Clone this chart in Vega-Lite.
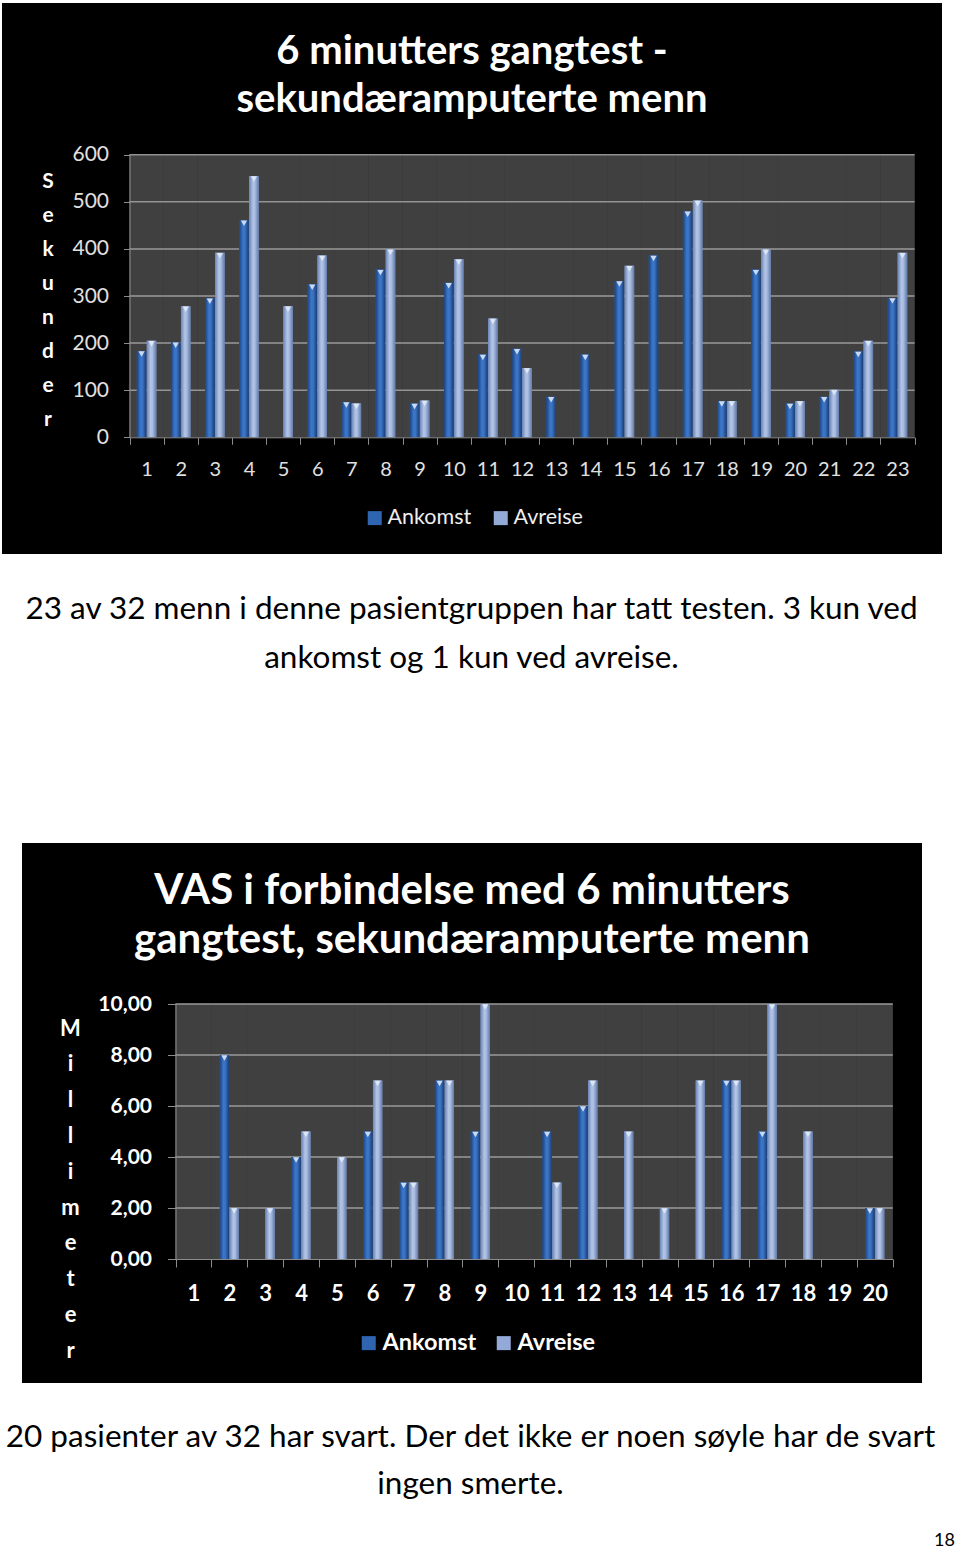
{
  "$schema": "https://vega.github.io/schema/vega-lite/v6.json",
  "background": "#ffffff",
  "padding": {"left": 2, "top": 3, "right": 5, "bottom": 2},
  "config": {
    "font": "Lato",
    "view": {"stroke": null, "fill": "#000000"}
  },
  "datasets": {
    "gangtest": [
      {"pasient": 1, "serie": "Ankomst", "verdi": 183}, {"pasient": 1, "serie": "Avreise", "verdi": 205},
      {"pasient": 2, "serie": "Ankomst", "verdi": 202}, {"pasient": 2, "serie": "Avreise", "verdi": 278},
      {"pasient": 3, "serie": "Ankomst", "verdi": 295}, {"pasient": 3, "serie": "Avreise", "verdi": 392},
      {"pasient": 4, "serie": "Ankomst", "verdi": 461}, {"pasient": 4, "serie": "Avreise", "verdi": 555},
      {"pasient": 5, "serie": "Ankomst", "verdi": null}, {"pasient": 5, "serie": "Avreise", "verdi": 278},
      {"pasient": 6, "serie": "Ankomst", "verdi": 325}, {"pasient": 6, "serie": "Avreise", "verdi": 386},
      {"pasient": 7, "serie": "Ankomst", "verdi": 75}, {"pasient": 7, "serie": "Avreise", "verdi": 72},
      {"pasient": 8, "serie": "Ankomst", "verdi": 356}, {"pasient": 8, "serie": "Avreise", "verdi": 399},
      {"pasient": 9, "serie": "Ankomst", "verdi": 72}, {"pasient": 9, "serie": "Avreise", "verdi": 78},
      {"pasient": 10, "serie": "Ankomst", "verdi": 328}, {"pasient": 10, "serie": "Avreise", "verdi": 378},
      {"pasient": 11, "serie": "Ankomst", "verdi": 176}, {"pasient": 11, "serie": "Avreise", "verdi": 252},
      {"pasient": 12, "serie": "Ankomst", "verdi": 188}, {"pasient": 12, "serie": "Avreise", "verdi": 147},
      {"pasient": 13, "serie": "Ankomst", "verdi": 86}, {"pasient": 13, "serie": "Avreise", "verdi": null},
      {"pasient": 14, "serie": "Ankomst", "verdi": 176}, {"pasient": 14, "serie": "Avreise", "verdi": null},
      {"pasient": 15, "serie": "Ankomst", "verdi": 332}, {"pasient": 15, "serie": "Avreise", "verdi": 364},
      {"pasient": 16, "serie": "Ankomst", "verdi": 386}, {"pasient": 16, "serie": "Avreise", "verdi": null},
      {"pasient": 17, "serie": "Ankomst", "verdi": 480}, {"pasient": 17, "serie": "Avreise", "verdi": 503},
      {"pasient": 18, "serie": "Ankomst", "verdi": 77}, {"pasient": 18, "serie": "Avreise", "verdi": 77},
      {"pasient": 19, "serie": "Ankomst", "verdi": 356}, {"pasient": 19, "serie": "Avreise", "verdi": 399},
      {"pasient": 20, "serie": "Ankomst", "verdi": 72}, {"pasient": 20, "serie": "Avreise", "verdi": 77},
      {"pasient": 21, "serie": "Ankomst", "verdi": 86}, {"pasient": 21, "serie": "Avreise", "verdi": 101},
      {"pasient": 22, "serie": "Ankomst", "verdi": 182}, {"pasient": 22, "serie": "Avreise", "verdi": 205},
      {"pasient": 23, "serie": "Ankomst", "verdi": 296}, {"pasient": 23, "serie": "Avreise", "verdi": 392}
    ],
    "vas": [
      {"pasient": 1, "serie": "Ankomst", "verdi": null}, {"pasient": 1, "serie": "Avreise", "verdi": null},
      {"pasient": 2, "serie": "Ankomst", "verdi": 8}, {"pasient": 2, "serie": "Avreise", "verdi": 2},
      {"pasient": 3, "serie": "Ankomst", "verdi": null}, {"pasient": 3, "serie": "Avreise", "verdi": 2},
      {"pasient": 4, "serie": "Ankomst", "verdi": 4}, {"pasient": 4, "serie": "Avreise", "verdi": 5},
      {"pasient": 5, "serie": "Ankomst", "verdi": null}, {"pasient": 5, "serie": "Avreise", "verdi": 4},
      {"pasient": 6, "serie": "Ankomst", "verdi": 5}, {"pasient": 6, "serie": "Avreise", "verdi": 7},
      {"pasient": 7, "serie": "Ankomst", "verdi": 3}, {"pasient": 7, "serie": "Avreise", "verdi": 3},
      {"pasient": 8, "serie": "Ankomst", "verdi": 7}, {"pasient": 8, "serie": "Avreise", "verdi": 7},
      {"pasient": 9, "serie": "Ankomst", "verdi": 5}, {"pasient": 9, "serie": "Avreise", "verdi": 10},
      {"pasient": 10, "serie": "Ankomst", "verdi": null}, {"pasient": 10, "serie": "Avreise", "verdi": null},
      {"pasient": 11, "serie": "Ankomst", "verdi": 5}, {"pasient": 11, "serie": "Avreise", "verdi": 3},
      {"pasient": 12, "serie": "Ankomst", "verdi": 6}, {"pasient": 12, "serie": "Avreise", "verdi": 7},
      {"pasient": 13, "serie": "Ankomst", "verdi": null}, {"pasient": 13, "serie": "Avreise", "verdi": 5},
      {"pasient": 14, "serie": "Ankomst", "verdi": null}, {"pasient": 14, "serie": "Avreise", "verdi": 2},
      {"pasient": 15, "serie": "Ankomst", "verdi": null}, {"pasient": 15, "serie": "Avreise", "verdi": 7},
      {"pasient": 16, "serie": "Ankomst", "verdi": 7}, {"pasient": 16, "serie": "Avreise", "verdi": 7},
      {"pasient": 17, "serie": "Ankomst", "verdi": 5}, {"pasient": 17, "serie": "Avreise", "verdi": 10},
      {"pasient": 18, "serie": "Ankomst", "verdi": null}, {"pasient": 18, "serie": "Avreise", "verdi": 5},
      {"pasient": 19, "serie": "Ankomst", "verdi": null}, {"pasient": 19, "serie": "Avreise", "verdi": null},
      {"pasient": 20, "serie": "Ankomst", "verdi": 2}, {"pasient": 20, "serie": "Avreise", "verdi": 2}
    ]
  },
  "title": {"text": "18", "orient": "bottom", "anchor": "end", "frame": "bounds", "fontSize": 18, "fontWeight": "normal", "font": "Lato", "color": "#000000", "offset": 32, "dx": 13},
  "vconcat": [
    {
      "width": 940,
      "height": 551,
      "data": {"name": "gangtest"},
      "title": {"text": ["6 minutters gangtest -", "sekundæramputerte menn"], "orient": "top", "anchor": "middle", "frame": "group", "offset": -149, "baseline": "alphabetic", "font": "Lato", "fontSize": 40, "fontWeight": "bold", "color": "#ffffff", "lineHeight": 48},
      "encoding": {
        "x": {
          "field": "pasient", "type": "ordinal",
          "scale": {"type": "band", "range": [127.5, 912.5], "paddingInner": 0, "paddingOuter": 0},
          "axis": {"orient": "bottom", "offset": -116.7, "zindex": 1, "grid": false, "domainColor": "#8c8c8c", "tickColor": "#8c8c8c", "tickSize": 7, "tickBand": "extent", "labelAngle": 0, "labelFont": "Lato", "labelFontSize": 20, "labelColor": "#e0e0e0", "labelPadding": 15,
            "title": ["23 av 32 menn i denne pasientgruppen har tatt testen. 3 kun ved", "ankomst og 1  kun ved avreise."],
            "titleX": 469, "titleY": 181, "titleAlign": "center", "titleBaseline": "alphabetic", "titleFont": "Lato", "titleFontSize": 31.5, "titleFontWeight": "normal", "titleColor": "#000000", "titleLineHeight": 49}
        }
      },
      "layer": [
        {"mark": {"type": "bar", "color": "#404040"}, "encoding": {"y": {"datum": 600, "type": "quantitative"}}},
        {"mark": {"type": "tick", "color": "#9a9a9a", "thickness": 1, "size": 34.2, "opacity": 1}, "encoding": {"y": {"datum": 100, "type": "quantitative"}}},
        {"mark": {"type": "tick", "color": "#9a9a9a", "thickness": 1, "size": 34.2, "opacity": 1}, "encoding": {"y": {"datum": 200, "type": "quantitative"}}},
        {"mark": {"type": "tick", "color": "#9a9a9a", "thickness": 1, "size": 34.2, "opacity": 1}, "encoding": {"y": {"datum": 300, "type": "quantitative"}}},
        {"mark": {"type": "tick", "color": "#9a9a9a", "thickness": 1, "size": 34.2, "opacity": 1}, "encoding": {"y": {"datum": 400, "type": "quantitative"}}},
        {"mark": {"type": "tick", "color": "#9a9a9a", "thickness": 1, "size": 34.2, "opacity": 1}, "encoding": {"y": {"datum": 500, "type": "quantitative"}}},
        {"mark": {"type": "tick", "color": "#9a9a9a", "thickness": 1, "size": 34.2, "opacity": 1}, "encoding": {"y": {"datum": 600, "type": "quantitative"}}},
        {
          "mark": {"type": "bar"},
          "encoding": {
            "y": {
              "field": "verdi", "type": "quantitative", "stack": null,
              "scale": {"domain": [0, 600], "range": [434.3, 151.7], "nice": false, "zero": true},
              "axis": {"orient": "left", "offset": -127.5, "zindex": 1, "grid": false, "values": [0, 100, 200, 300, 400, 500, 600], "labelFlush": false, "domainColor": "#8c8c8c", "tickColor": "#8c8c8c", "tickSize": 6, "labelFont": "Lato", "labelFontSize": 21, "labelColor": "#e0e0e0", "labelPadding": 15,
                "title": ["S", "e", "k", "u", "n", "d", "e", "r"], "titleAngle": 0, "titleX": -82, "titleY": 184, "titleAlign": "center", "titleBaseline": "alphabetic", "titleFont": "Lato", "titleFontWeight": "bold", "titleFontSize": 21, "titleColor": "#ffffff", "titleLineHeight": 34}
            },
            "xOffset": {"field": "serie", "type": "nominal", "scale": {"paddingInner": 0.05, "paddingOuter": 0.73}},
            "color": {
              "field": "serie", "type": "nominal",
              "scale": {"domain": ["Ankomst", "Avreise"], "range": ["#2f64b0", "#93aad8"]},
              "legend": {"orient": "none", "legendX": 362, "legendY": 504, "direction": "horizontal", "title": null, "symbolType": "square", "symbolSize": 196, "symbolStrokeWidth": 0, "labelFont": "Lato", "labelFontSize": 21.5, "labelColor": "#eeeeee", "labelOffset": 2, "columnPadding": 18}
            }
          }
        },
        {
          "transform": [{"filter": "datum.serie === 'Ankomst'"}],
          "mark": {"type": "bar", "fill": {"gradient": "linear", "x1": 0, "x2": 1, "y1": 0, "y2": 0, "stops": [{"offset": 0, "color": "#1c437f"}, {"offset": 0.4, "color": "#3b76c9"}, {"offset": 0.6, "color": "#3a73c4"}, {"offset": 1, "color": "#1a3d74"}]}},
          "encoding": {"y": {"field": "verdi", "type": "quantitative", "stack": null}, "xOffset": {"field": "serie", "type": "nominal"}}
        },
        {
          "transform": [{"filter": "datum.serie === 'Avreise'"}],
          "mark": {"type": "bar", "fill": {"gradient": "linear", "x1": 0, "x2": 1, "y1": 0, "y2": 0, "stops": [{"offset": 0, "color": "#6a84b6"}, {"offset": 0.4, "color": "#b3c5e6"}, {"offset": 0.6, "color": "#a9bce0"}, {"offset": 1, "color": "#627bab"}]}},
          "encoding": {"y": {"field": "verdi", "type": "quantitative", "stack": null}, "xOffset": {"field": "serie", "type": "nominal"}}
        },
        {
          "mark": {"type": "point", "shape": "triangle-down", "filled": true, "color": "#e4ecf8", "opacity": 0.85, "size": 40, "yOffset": 3},
          "encoding": {"y": {"field": "verdi", "type": "quantitative", "stack": null}, "xOffset": {"field": "serie", "type": "nominal"}}
        }
      ]
    },
    {
      "width": 900,
      "height": 540,
      "data": {"name": "vas"},
      "title": {"text": ["VAS i forbindelse med 6 minutters", "gangtest, sekundæramputerte menn"], "orient": "top", "anchor": "middle", "frame": "group", "offset": -152, "baseline": "alphabetic", "font": "Lato", "fontSize": 42, "fontWeight": "bold", "color": "#ffffff", "lineHeight": 49},
      "encoding": {
        "x": {
          "field": "pasient", "type": "ordinal",
          "scale": {"type": "band", "range": [153.5, 870.7], "paddingInner": 0, "paddingOuter": 0},
          "axis": {"orient": "bottom", "offset": -124, "zindex": 1, "grid": false, "domainColor": "#8c8c8c", "tickColor": "#8c8c8c", "tickSize": 8, "tickBand": "extent", "labelAngle": 0, "labelFont": "Lato", "labelFontSize": 22, "labelFontWeight": "bold", "labelColor": "#ffffff", "labelPadding": 16,
            "title": ["20 pasienter av 32 har svart. Der det ikke er noen søyle har de svart", "ingen smerte."],
            "titleX": 448, "titleY": 187, "titleAlign": "center", "titleBaseline": "alphabetic", "titleFont": "Lato", "titleFontSize": 31.5, "titleFontWeight": "normal", "titleColor": "#000000", "titleLineHeight": 47}
        }
      },
      "layer": [
        {"mark": {"type": "bar", "color": "#404040"}, "encoding": {"y": {"datum": 10, "type": "quantitative"}}},
        {"mark": {"type": "tick", "color": "#9a9a9a", "thickness": 1, "size": 35.9, "opacity": 1}, "encoding": {"y": {"datum": 2, "type": "quantitative"}}},
        {"mark": {"type": "tick", "color": "#9a9a9a", "thickness": 1, "size": 35.9, "opacity": 1}, "encoding": {"y": {"datum": 4, "type": "quantitative"}}},
        {"mark": {"type": "tick", "color": "#9a9a9a", "thickness": 1, "size": 35.9, "opacity": 1}, "encoding": {"y": {"datum": 6, "type": "quantitative"}}},
        {"mark": {"type": "tick", "color": "#9a9a9a", "thickness": 1, "size": 35.9, "opacity": 1}, "encoding": {"y": {"datum": 8, "type": "quantitative"}}},
        {"mark": {"type": "tick", "color": "#9a9a9a", "thickness": 1, "size": 35.9, "opacity": 1}, "encoding": {"y": {"datum": 10, "type": "quantitative"}}},
        {
          "mark": {"type": "bar"},
          "encoding": {
            "y": {
              "field": "verdi", "type": "quantitative", "stack": null,
              "scale": {"domain": [0, 10], "range": [416, 161], "nice": false, "zero": true},
              "axis": {"orient": "left", "offset": -153.5, "zindex": 1, "grid": false, "values": [0, 2, 4, 6, 8, 10], "labelExpr": "replace(format(datum.value, '.2f'), '.', ',')", "labelFlush": false, "domainColor": "#8c8c8c", "tickColor": "#8c8c8c", "tickSize": 8, "labelFont": "Lato", "labelFontSize": 21, "labelFontWeight": "bold", "labelColor": "#ffffff", "labelPadding": 16,
                "title": ["M", "i", "l", "l", "i", "m", "e", "t", "e", "r"], "titleAngle": 0, "titleX": -105.5, "titleY": 192, "titleAlign": "center", "titleBaseline": "alphabetic", "titleFont": "Lato", "titleFontWeight": "bold", "titleFontSize": 22, "titleColor": "#ffffff", "titleLineHeight": 35.8}
            },
            "xOffset": {"field": "serie", "type": "nominal", "scale": {"paddingInner": 0.05, "paddingOuter": 0.855}},
            "color": {
              "field": "serie", "type": "nominal",
              "scale": {"domain": ["Ankomst", "Avreise"], "range": ["#2f64b0", "#93aad8"]},
              "legend": {"orient": "none", "legendX": 335, "legendY": 488, "direction": "horizontal", "title": null, "symbolType": "square", "symbolSize": 196, "symbolStrokeWidth": 0, "labelFont": "Lato", "labelFontSize": 23.5, "labelFontWeight": "bold", "labelColor": "#ffffff", "labelOffset": 2, "columnPadding": 15}
            }
          }
        },
        {
          "transform": [{"filter": "datum.serie === 'Ankomst'"}],
          "mark": {"type": "bar", "fill": {"gradient": "linear", "x1": 0, "x2": 1, "y1": 0, "y2": 0, "stops": [{"offset": 0, "color": "#1c437f"}, {"offset": 0.4, "color": "#3b76c9"}, {"offset": 0.6, "color": "#3a73c4"}, {"offset": 1, "color": "#1a3d74"}]}},
          "encoding": {"y": {"field": "verdi", "type": "quantitative", "stack": null}, "xOffset": {"field": "serie", "type": "nominal"}}
        },
        {
          "transform": [{"filter": "datum.serie === 'Avreise'"}],
          "mark": {"type": "bar", "fill": {"gradient": "linear", "x1": 0, "x2": 1, "y1": 0, "y2": 0, "stops": [{"offset": 0, "color": "#6a84b6"}, {"offset": 0.4, "color": "#b3c5e6"}, {"offset": 0.6, "color": "#a9bce0"}, {"offset": 1, "color": "#627bab"}]}},
          "encoding": {"y": {"field": "verdi", "type": "quantitative", "stack": null}, "xOffset": {"field": "serie", "type": "nominal"}}
        },
        {
          "mark": {"type": "point", "shape": "triangle-down", "filled": true, "color": "#e4ecf8", "opacity": 0.85, "size": 40, "yOffset": 3},
          "encoding": {"y": {"field": "verdi", "type": "quantitative", "stack": null}, "xOffset": {"field": "serie", "type": "nominal"}}
        }
      ]
    }
  ],
  "center": true,
  "bounds": "flush",
  "spacing": 289,
  "resolve": {"scale": {"x": "independent", "y": "independent", "color": "independent", "xOffset": "independent"}, "legend": {"color": "independent"}, "axis": {"x": "independent", "y": "independent"}}
}
